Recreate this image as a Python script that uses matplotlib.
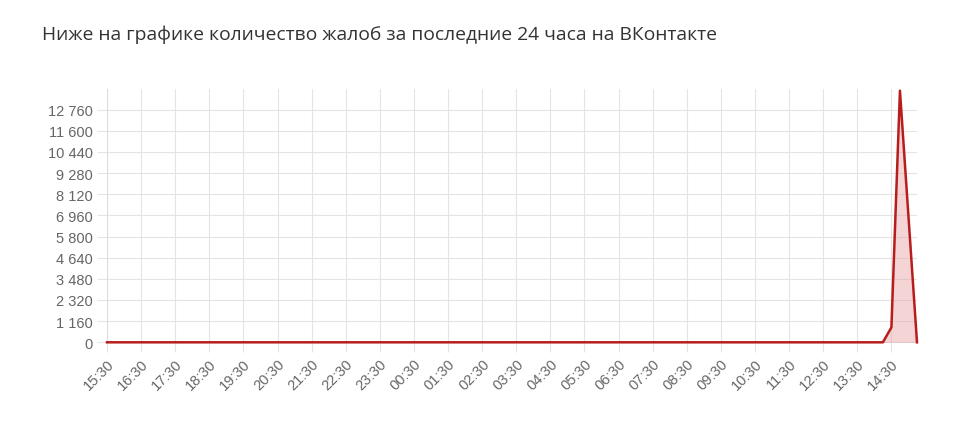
import matplotlib
matplotlib.use("Agg")
import matplotlib.pyplot as plt
from matplotlib.ticker import FixedLocator

# ---------------------------------------------------------------------------
# Data (hours since 15:30 of the previous day)
# ---------------------------------------------------------------------------
TITLE = "Ниже на графике количество жалоб за последние 24 часа на ВКонтакте"
hour_labels = ["15:30", "16:30", "17:30", "18:30", "19:30", "20:30", "21:30",
               "22:30", "23:30", "00:30", "01:30", "02:30", "03:30", "04:30",
               "05:30", "06:30", "07:30", "08:30", "09:30", "10:30", "11:30",
               "12:30", "13:30", "14:30"]
y_ticks = [0, 1160, 2320, 3480, 4640, 5800, 6960, 8120, 9280, 10440, 11600, 12760]
y_max = 13920

point_hours = [0.0, 22.75, 23.0, 23.25, 23.5, 23.75]
complaints = [0, 0, 820, 13800, 6900, 0]


def fmt_num(v):
    return f"{v:,}".replace(",", " ")


fig = plt.figure(figsize=(9.6, 4.27), dpi=100)
ax = fig.add_axes([107 / 960, 1 - 343.3 / 427, (917 - 107) / 960, (343.3 - 89.5) / 427])

ax.fill_between(point_hours, complaints, 0, color="#e8a0a0", alpha=0.45, lw=0, zorder=3)
ax.plot(point_hours, complaints, color="#b81d1d", lw=1.8, solid_joinstyle="round",
        zorder=4, clip_on=False)

ax.set_xlim(0, 23.75)
ax.set_ylim(0, y_max)

ax.xaxis.set_major_locator(FixedLocator(range(len(hour_labels))))
ax.set_xticklabels(hour_labels, rotation=45, ha="right", rotation_mode="anchor",
                   fontsize=10.5, color="#666666", family="Liberation Sans")
ax.yaxis.set_major_locator(FixedLocator(y_ticks))
ax.set_yticklabels([fmt_num(v) for v in y_ticks], fontsize=10.5, color="#666666",
                   family="Liberation Sans")

ax.grid(True, color="#e4e4e4", lw=0.8)
ax.set_axisbelow(True)
ax.tick_params(axis="both", length=7, width=0.8, color="#e4e4e4", pad=3)
for side in ["top", "right"]:
    ax.spines[side].set_visible(False)
for side in ["left", "bottom"]:
    ax.spines[side].set_color("#dddddd")
    ax.spines[side].set_linewidth(0.8)
    ax.spines[side].set_zorder(1)

fig.text(42 / 960, 1 - 35 / 427, TITLE, fontsize=13.9, color="#333333",
         family="Open Sans", va="center", ha="left")

fig.savefig("out.png", dpi=100)
